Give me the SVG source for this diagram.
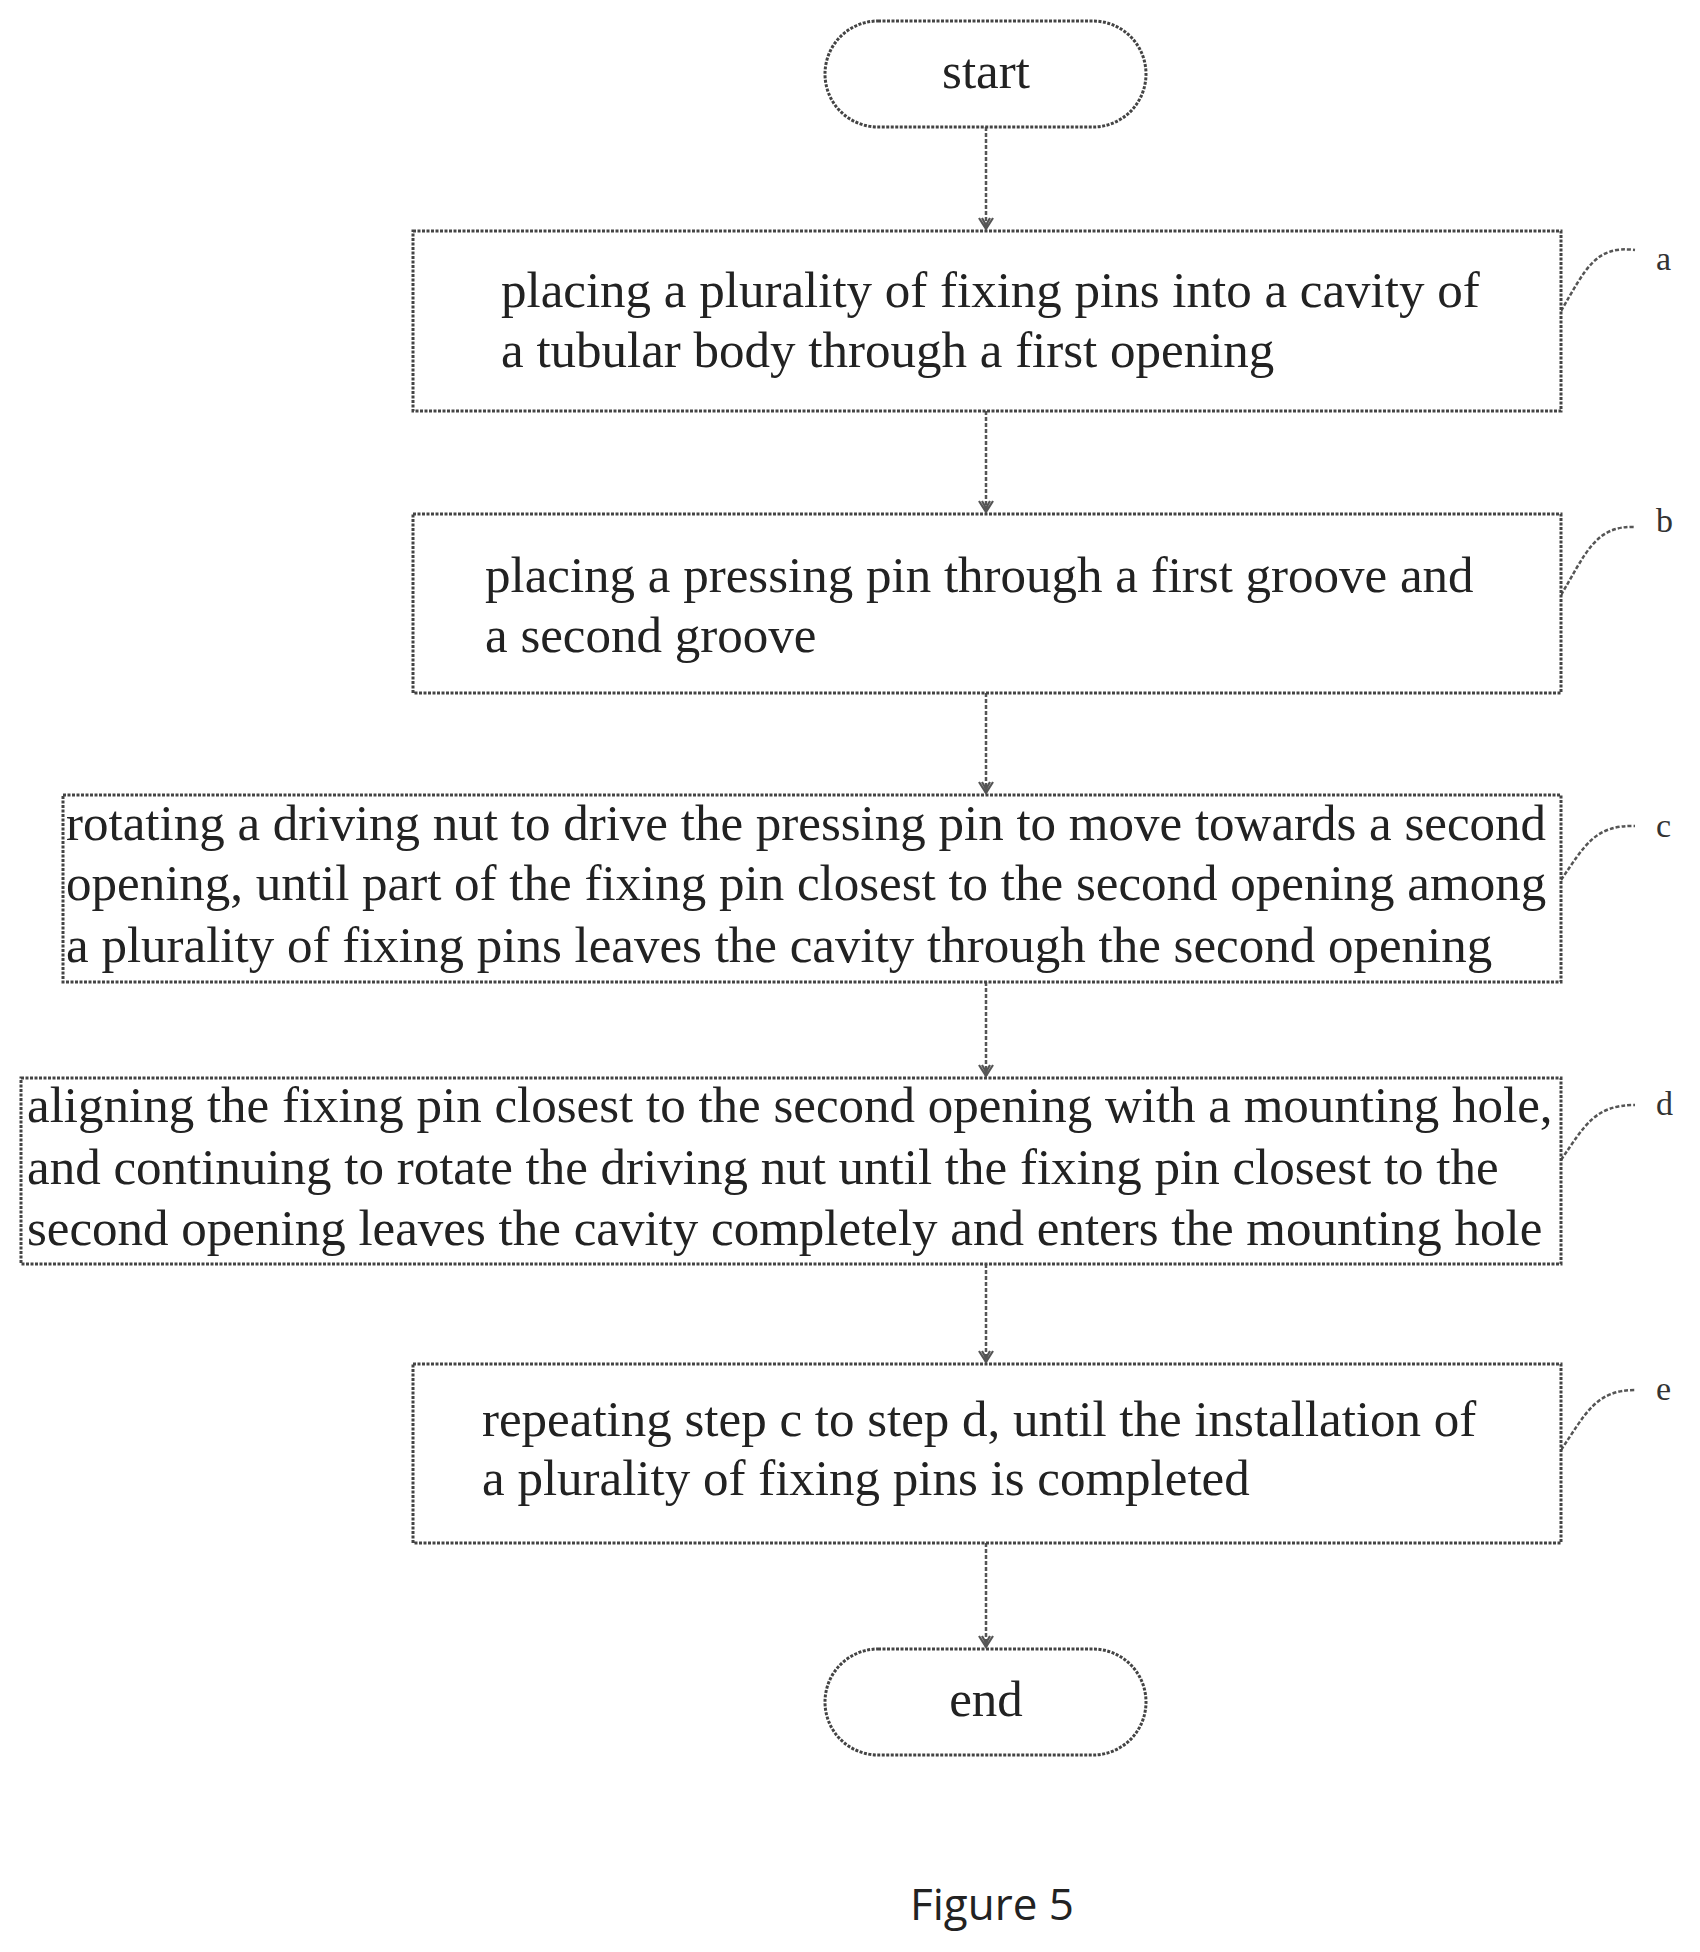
<svg xmlns="http://www.w3.org/2000/svg" width="1700" height="1952" viewBox="0 0 1700 1952">
<style>
.b{fill:#fff;stroke:#444;stroke-width:3;stroke-dasharray:3 1.5}
.t{font-family:"Liberation Serif",serif;font-size:51px;fill:#222}
.c{stroke:#555;stroke-width:2.5;stroke-dasharray:4 2;fill:none}
.l{font-family:"Liberation Serif",serif;font-size:34px;fill:#333}
</style>
<defs><marker id="ar" markerWidth="16" markerHeight="16" refX="13" refY="8" orient="auto" markerUnits="userSpaceOnUse"><path d="M2,1 L13,8 L2,15 M2,4 L9,8 L2,12" fill="none" stroke="#555" stroke-width="2.2"/></marker></defs>
<rect width="1700" height="1952" fill="#fff"/>
<g id="connectors">
<line class="c" x1="986" y1="127" x2="986" y2="229" marker-end="url(#ar)"/>
<line class="c" x1="986" y1="411" x2="986" y2="512" marker-end="url(#ar)"/>
<line class="c" x1="986" y1="693" x2="986" y2="793" marker-end="url(#ar)"/>
<line class="c" x1="986" y1="982" x2="986" y2="1076" marker-end="url(#ar)"/>
<line class="c" x1="986" y1="1264" x2="986" y2="1362" marker-end="url(#ar)"/>
<line class="c" x1="986" y1="1543" x2="986" y2="1647" marker-end="url(#ar)"/>
<path class="c" d="M1561,311 C1585,270 1595,245 1635,250 M1561,595 C1585,555 1595,525 1635,527 M1561,880 C1585,845 1595,825 1635,826 M1561,1160 C1585,1125 1595,1105 1635,1105 M1561,1450 C1585,1415 1595,1390 1635,1390"/>
</g>
<g id="start"><rect class="b" x="825" y="21" width="321" height="106" rx="53"/><text class="t" x="986" y="88" text-anchor="middle">start</text></g>
<g id="a"><rect class="b" x="413" y="231" width="1148" height="180"/><text class="t" x="501" y="307">placing a plurality of fixing pins into a cavity of</text><text class="t" x="501" y="367">a tubular body through a first opening</text><text class="l" x="1656" y="270">a</text></g>
<g id="b"><rect class="b" x="413" y="514" width="1148" height="179"/><text class="t" x="485" y="592">placing a pressing pin through a first groove and</text><text class="t" x="485" y="652">a second groove</text><text class="l" x="1656" y="532">b</text></g>
<g id="c"><rect class="b" x="63" y="795" width="1498" height="187"/><text class="t" x="66" y="840">rotating a driving nut to drive the pressing pin to move towards a second</text><text class="t" x="66" y="900">opening, until part of the fixing pin closest to the second opening among</text><text class="t" x="66" y="962">a plurality of fixing pins leaves the cavity through the second opening</text><text class="l" x="1656" y="837">c</text></g>
<g id="d"><rect class="b" x="21" y="1078" width="1540" height="186"/><text class="t" x="27" y="1122">aligning the fixing pin closest to the second opening with a mounting hole,</text><text class="t" x="27" y="1184">and continuing to rotate the driving nut until the fixing pin closest to the</text><text class="t" x="27" y="1245">second opening leaves the cavity completely and enters the mounting hole</text><text class="l" x="1656" y="1115">d</text></g>
<g id="e"><rect class="b" x="413" y="1364" width="1148" height="179"/><text class="t" x="482" y="1436">repeating step c to step d, until the installation of</text><text class="t" x="482" y="1495">a plurality of fixing pins is completed</text><text class="l" x="1656" y="1400">e</text></g>
<g id="end"><rect class="b" x="825" y="1649" width="321" height="106" rx="53"/><text class="t" x="986" y="1716" text-anchor="middle">end</text></g>
<text x="992" y="1920" text-anchor="middle" font-family="'Open Sans',sans-serif" font-size="44" fill="#222">Figure 5</text>
</svg>
